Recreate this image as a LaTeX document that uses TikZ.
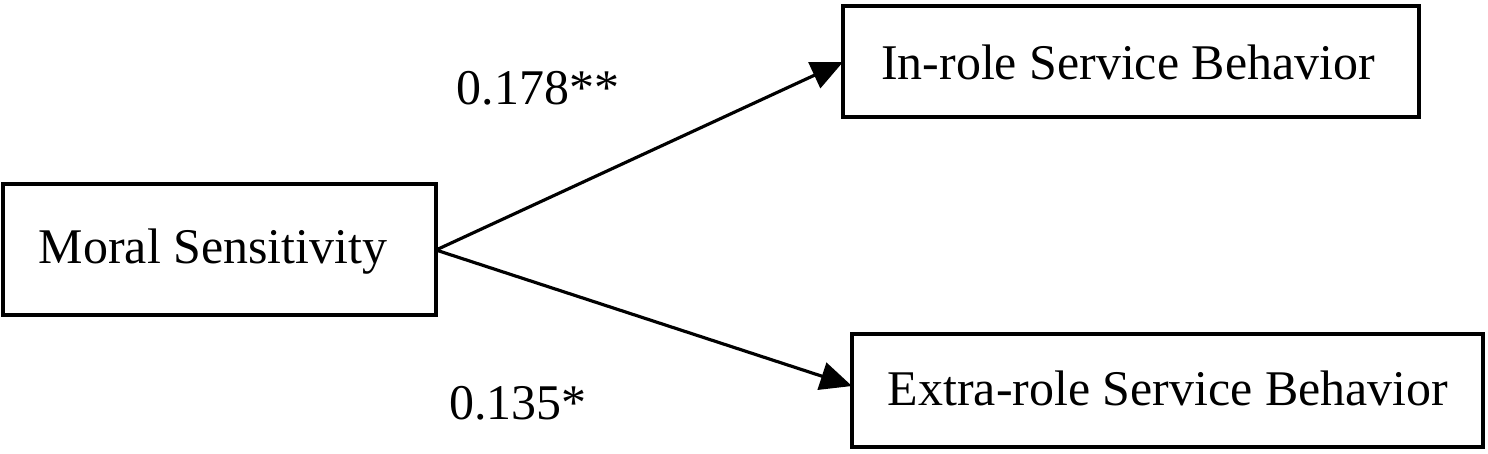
\documentclass[tikz,border=0pt]{standalone}
\usepackage{fontspec}
\setmainfont{Liberation Serif}
\usetikzlibrary{arrows.meta}
\begin{document}
\begin{tikzpicture}[x=0.01cm,y=-0.01cm,
  box/.style={draw,line width=1pt,inner sep=0pt},
  lbl/.style={font=\fontsize{14.2pt}{17pt}\selectfont},
  arr/.style={line width=0.9pt,-{Triangle[length=9pt,width=8pt]}}]
\useasboundingbox (0,0) rectangle (1488,453);
\draw[box] (3,184) rectangle (436,315);
\node[lbl] (ms) at (213,252) {Moral Sensitivity};
\coordinate (msr) at (436,250);
\draw[box] (843,6) rectangle (1419,117);
\node[lbl] (ir) at (1128,62) {In-role Service Behavior};
\coordinate (irl) at (843,62);
\draw[box] (852,334) rectangle (1483,447);
\node[lbl] (er) at (1168,388) {Extra-role Service Behavior};
\coordinate (erl) at (852,386);
\draw[arr] (msr) -- (irl);
\draw[arr] (msr) -- (erl);
\node[lbl] (a) at (538,88) {0.178**};
\node[lbl] (b) at (518,403) {0.135*};
\end{tikzpicture}
\end{document}
